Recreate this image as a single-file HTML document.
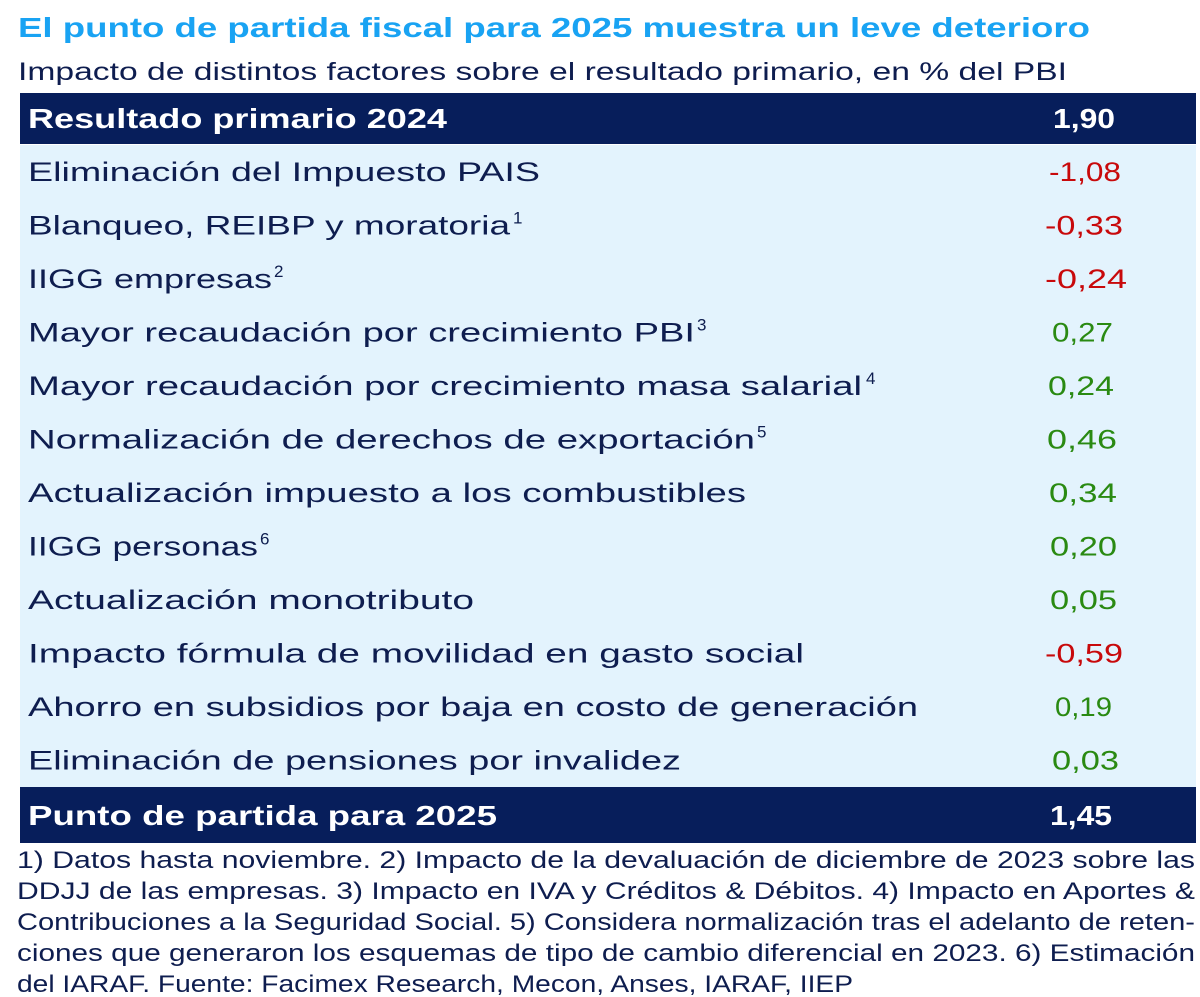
<!DOCTYPE html>
<html>
<head>
<meta charset="utf-8">
<style>
  html,body{margin:0;padding:0;background:#ffffff;}
  svg{display:block;}
  text{font-family:"Liberation Sans", Arial, sans-serif;}
  .lbl{font-size:27px;fill:#0e1d4f;}
  .sup{font-size:17px;fill:#0e1d4f;}
  .red{font-size:27px;fill:#c8090b;}
  .grn{font-size:27px;fill:#2a8a12;}
  .wht{font-size:28px;fill:#ffffff;font-weight:bold;}
  .fn{font-size:24px;fill:#0e1d4f;}
</style>
</head>
<body>
<svg width="1200" height="997" viewBox="0 0 1200 997" xmlns="http://www.w3.org/2000/svg">
  <rect x="0" y="0" width="1200" height="997" fill="#ffffff"/>

  <!-- Title & subtitle -->
  <text x="18" y="37" font-size="28" font-weight="bold" fill="#19a3f3" textLength="1072" lengthAdjust="spacingAndGlyphs">El punto de partida fiscal para 2025 muestra un leve deterioro</text>
  <text x="18" y="80" font-size="25" fill="#0e1d4f" textLength="1049" lengthAdjust="spacingAndGlyphs">Impacto de distintos factores sobre el resultado primario, en % del PBI</text>

  <!-- Bands -->
  <rect x="20" y="93" width="1176" height="51" fill="#071e5b"/>
  <rect x="20" y="145" width="1176" height="642" fill="#e3f3fd"/>
  <rect x="20" y="787" width="1176" height="56" fill="#071e5b"/>

  <!-- Header -->
  <text x="28" y="128" class="wht" textLength="419" lengthAdjust="spacingAndGlyphs">Resultado primario 2024</text>
  <text x="1053" y="128" class="wht" textLength="62" lengthAdjust="spacingAndGlyphs">1,90</text>

  <!-- Rows -->
  <text x="28" y="181" class="lbl" textLength="512" lengthAdjust="spacingAndGlyphs">Eliminación del Impuesto PAIS</text>
  <text x="1049" y="181" class="red" textLength="72" lengthAdjust="spacingAndGlyphs">-1,08</text>

  <text x="28" y="234.5" class="lbl" textLength="482" lengthAdjust="spacingAndGlyphs">Blanqueo, REIBP y moratoria</text>
  <text x="513" y="223.5" class="sup">1</text>
  <text x="1045" y="234.5" class="red" textLength="78" lengthAdjust="spacingAndGlyphs">-0,33</text>

  <text x="28" y="288" class="lbl" textLength="244" lengthAdjust="spacingAndGlyphs">IIGG empresas</text>
  <text x="274" y="277" class="sup">2</text>
  <text x="1045" y="288" class="red" textLength="82" lengthAdjust="spacingAndGlyphs">-0,24</text>

  <text x="28" y="341.5" class="lbl" textLength="667" lengthAdjust="spacingAndGlyphs">Mayor recaudación por crecimiento PBI</text>
  <text x="697" y="330.5" class="sup">3</text>
  <text x="1052" y="341.5" class="grn" textLength="61" lengthAdjust="spacingAndGlyphs">0,27</text>

  <text x="28" y="395" class="lbl" textLength="834" lengthAdjust="spacingAndGlyphs">Mayor recaudación por crecimiento masa salarial</text>
  <text x="866" y="384" class="sup">4</text>
  <text x="1048" y="395" class="grn" textLength="66" lengthAdjust="spacingAndGlyphs">0,24</text>

  <text x="28" y="448.5" class="lbl" textLength="727" lengthAdjust="spacingAndGlyphs">Normalización de derechos de exportación</text>
  <text x="757" y="437.5" class="sup">5</text>
  <text x="1047" y="448.5" class="grn" textLength="70" lengthAdjust="spacingAndGlyphs">0,46</text>

  <text x="28" y="502" class="lbl" textLength="718" lengthAdjust="spacingAndGlyphs">Actualización impuesto a los combustibles</text>
  <text x="1049" y="502" class="grn" textLength="68" lengthAdjust="spacingAndGlyphs">0,34</text>

  <text x="28" y="555.5" class="lbl" textLength="230" lengthAdjust="spacingAndGlyphs">IIGG personas</text>
  <text x="260" y="544.5" class="sup">6</text>
  <text x="1050" y="555.5" class="grn" textLength="67" lengthAdjust="spacingAndGlyphs">0,20</text>

  <text x="28" y="609" class="lbl" textLength="446" lengthAdjust="spacingAndGlyphs">Actualización monotributo</text>
  <text x="1050" y="609" class="grn" textLength="67" lengthAdjust="spacingAndGlyphs">0,05</text>

  <text x="28" y="662.5" class="lbl" textLength="776" lengthAdjust="spacingAndGlyphs">Impacto fórmula de movilidad en gasto social</text>
  <text x="1045" y="662.5" class="red" textLength="78" lengthAdjust="spacingAndGlyphs">-0,59</text>

  <text x="28" y="716" class="lbl" textLength="890" lengthAdjust="spacingAndGlyphs">Ahorro en subsidios por baja en costo de generación</text>
  <text x="1055" y="716" class="grn" textLength="57" lengthAdjust="spacingAndGlyphs">0,19</text>

  <text x="28" y="769.5" class="lbl" textLength="653" lengthAdjust="spacingAndGlyphs">Eliminación de pensiones por invalidez</text>
  <text x="1052" y="769.5" class="grn" textLength="67" lengthAdjust="spacingAndGlyphs">0,03</text>

  <!-- Footer row -->
  <text x="28" y="825" class="wht" textLength="469" lengthAdjust="spacingAndGlyphs">Punto de partida para 2025</text>
  <text x="1050" y="825" class="wht" textLength="62" lengthAdjust="spacingAndGlyphs">1,45</text>

  <!-- Footnotes -->
  <text x="17" y="868" class="fn" textLength="1178" lengthAdjust="spacingAndGlyphs">1) Datos hasta noviembre. 2) Impacto de la devaluación de diciembre de 2023 sobre las</text>
  <text x="17" y="899" class="fn" textLength="1178" lengthAdjust="spacingAndGlyphs">DDJJ de las empresas. 3) Impacto en IVA y Créditos &amp; Débitos. 4) Impacto en Aportes &amp;</text>
  <text x="17" y="930" class="fn" textLength="1178" lengthAdjust="spacingAndGlyphs">Contribuciones a la Seguridad Social. 5) Considera normalización tras el adelanto de reten-</text>
  <text x="17" y="961" class="fn" textLength="1178" lengthAdjust="spacingAndGlyphs">ciones que generaron los esquemas de tipo de cambio diferencial en 2023. 6) Estimación</text>
  <text x="17" y="992" class="fn" textLength="836" lengthAdjust="spacingAndGlyphs">del IARAF. Fuente: Facimex Research, Mecon, Anses, IARAF, IIEP</text>
</svg>
</body>
</html>
